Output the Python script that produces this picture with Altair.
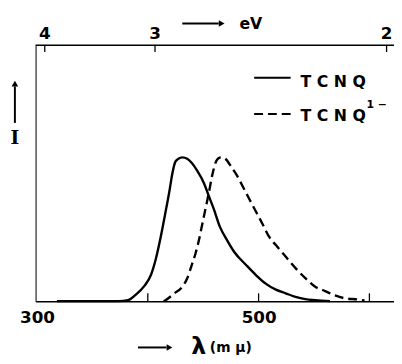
import altair as alt
import pandas as pd

# ---- data ----
solid_wl = [318, 340, 360, 373.3, 382.2, 388.4, 397.3, 402.7, 407.1, 411.6, 416, 419.6,
            422.2, 424.9, 427.6, 431.1, 435.6, 444.4, 450.7, 455.1, 459.6, 464.9,
            471.1, 478.2, 488.9, 497.8, 506.7, 515.6, 524.4, 533.3, 542.2, 551.1, 564.4]
solid_i = [0, 0, 0, 0, 0.007, 0.04, 0.11, 0.18, 0.29, 0.445, 0.62, 0.77,
           0.89, 0.97, 0.99, 1.0, 0.99, 0.91, 0.82, 0.73, 0.64, 0.52,
           0.43, 0.34, 0.25, 0.18, 0.12, 0.08, 0.055, 0.03, 0.014, 0.007, 0]

dashed_wl = [414.2, 416, 424, 431.1, 435.6, 440, 443, 446, 449, 452, 455, 458,
             461, 464, 467, 470, 475.6, 480, 486.2, 491.6, 497.8, 504,
             509.3, 515.6, 524.4, 533.3, 542.2, 551.1, 560, 568.9, 577.8, 589.3, 595.6]
dashed_i = [0, 0.007, 0.055, 0.10, 0.16, 0.26, 0.33, 0.42, 0.53, 0.64, 0.75, 0.87,
            0.96, 0.995, 1.0, 0.99, 0.93, 0.88, 0.79, 0.71, 0.62, 0.53,
            0.45, 0.39, 0.31, 0.23, 0.16, 0.10, 0.07, 0.04, 0.02, 0.012, 0.005]

wl_ticks = [400, 500, 600]
wl_labels = [300, 500]
ev_pos = [307, 406.5, 615.5]      # wavelength positions of the eV ticks
ev_labels = ["4", "3", "2"]

W, H = 364, 260
XDOM = [298.7, 622.2]
YDOM = [0, 1.78]
FONT = "DejaVu Sans"

xs = alt.Scale(domain=XDOM, nice=False, zero=False)
ys = alt.Scale(domain=YDOM, nice=False, zero=False)

df_s = pd.DataFrame({"wl": solid_wl, "I": solid_i})
df_d = pd.DataFrame({"wl": dashed_wl, "I": dashed_i})
df_bt = pd.DataFrame({"wl": wl_ticks})
df_ev = pd.DataFrame({"wl": ev_pos, "lab": ev_labels})
one = pd.DataFrame({"a": [0]})

x_axis = alt.Axis(
    values=wl_labels, ticks=False, tickSize=0, grid=False, title=None,
    domainColor="black", domainWidth=1.5, labelPadding=9,
    labelFont=FONT, labelFontWeight="bold", labelFontSize=17, labelColor="black")
y_axis = alt.Axis(
    ticks=False, tickSize=0, labels=False, grid=False, title=None,
    domainColor="#222", domainWidth=1.2)

solid = alt.Chart(df_s).mark_line(color="black", strokeWidth=2.4, interpolate="monotone").encode(
    x=alt.X("wl:Q", scale=xs, axis=x_axis),
    y=alt.Y("I:Q", scale=ys, axis=y_axis),
)

dashed = alt.Chart(df_d).mark_line(color="black", strokeWidth=2.4, strokeDash=[9, 5],
                                   interpolate="monotone").encode(
    x=alt.X("wl:Q", scale=xs, axis=x_axis),
    y=alt.Y("I:Q", scale=ys, axis=y_axis),
)

bticks = alt.Chart(df_bt).mark_rule(color="black", strokeWidth=1.3).encode(
    x=alt.X("wl:Q", scale=xs, axis=x_axis),
    y=alt.value(H), y2=alt.value(H - 8),
)

tticks = alt.Chart(df_ev).mark_rule(color="black", strokeWidth=1.3).encode(
    x=alt.X("wl:Q", scale=xs, axis=x_axis),
    y=alt.value(0), y2=alt.value(7),
)

tlabels = alt.Chart(df_ev).mark_text(font=FONT, fontWeight="bold", fontSize=17,
                                     baseline="alphabetic", color="black").encode(
    x=alt.X("wl:Q", scale=xs, axis=x_axis),
    y=alt.value(-6),
    text="lab:N",
)

topline = alt.Chart(one).mark_rule(color="black", strokeWidth=1.5).encode(
    x=alt.value(0), x2=alt.value(W), y=alt.value(0))

# legend
leg_s = alt.Chart(one).mark_rule(color="black", strokeWidth=2).encode(
    x=alt.value(222), x2=alt.value(259), y=alt.value(33))
leg_d = alt.Chart(one).mark_rule(color="black", strokeWidth=2, strokeDash=[9, 5]).encode(
    x=alt.value(222), x2=alt.value(259), y=alt.value(70))
leg_t1 = alt.Chart(one).mark_text(font=FONT, fontWeight="bold", fontSize=16, align="left",
                                  baseline="alphabetic", color="black").encode(
    x=alt.value(269), y=alt.value(42), text=alt.value("T C N Q"))
leg_t2 = alt.Chart(one).mark_text(font=FONT, fontWeight="bold", fontSize=16, align="left",
                                  baseline="alphabetic", color="black").encode(
    x=alt.value(269), y=alt.value(77), text=alt.value("T C N Q"))
leg_sup = alt.Chart(one).mark_text(font=FONT, fontWeight="bold", fontSize=11, align="left",
                                   baseline="alphabetic", color="black").encode(
    x=alt.value(336), y=alt.value(64), text=alt.value("1 \u2212"))

# axis annotations
i_line = alt.Chart(one).mark_rule(color="black", strokeWidth=2).encode(
    x=alt.value(-21), y=alt.value(42), y2=alt.value(79))
i_head = alt.Chart(one).mark_point(shape="triangle-up", filled=True, color="black",
                                   size=45, opacity=1).encode(
    x=alt.value(-21), y=alt.value(39))
i_text = alt.Chart(one).mark_text(font="DejaVu Serif", fontWeight="bold", fontSize=19,
                                  baseline="alphabetic", color="black").encode(
    x=alt.value(-21), y=alt.value(100), text=alt.value("I"))

ev_line = alt.Chart(one).mark_rule(color="black", strokeWidth=2).encode(
    x=alt.value(149), x2=alt.value(186), y=alt.value(-22))
ev_head = alt.Chart(one).mark_point(shape="triangle-right", filled=True, color="black",
                                    size=45, opacity=1).encode(
    x=alt.value(189), y=alt.value(-22))
ev_text = alt.Chart(one).mark_text(font=FONT, fontWeight="bold", fontSize=16, align="left",
                                   baseline="alphabetic", color="black").encode(
    x=alt.value(207), y=alt.value(-16), text=alt.value("eV"))

lam_line = alt.Chart(one).mark_rule(color="black", strokeWidth=2).encode(
    x=alt.value(104), x2=alt.value(133), y=alt.value(307))
lam_head = alt.Chart(one).mark_point(shape="triangle-right", filled=True, color="black",
                                     size=45, opacity=1).encode(
    x=alt.value(136), y=alt.value(307))
lam_text = alt.Chart(one).mark_text(font=FONT, fontWeight="bold", fontSize=24, align="left",
                                    baseline="alphabetic", color="black").encode(
    x=alt.value(158), y=alt.value(314), text=alt.value("\u03bb"))
mu_text = alt.Chart(one).mark_text(font=FONT, fontWeight="bold", fontSize=14, align="left",
                                   baseline="alphabetic", color="black").encode(
    x=alt.value(177), y=alt.value(312), text=alt.value("(m \u03bc)"))

chart = alt.layer(
    solid, dashed, bticks, tticks, tlabels, topline,
    leg_s, leg_d, leg_t1, leg_t2, leg_sup,
    i_line, i_head, i_text, ev_line, ev_head, ev_text,
    lam_line, lam_head, lam_text, mu_text,
).properties(
    width=W, height=H,
    autosize=alt.AutoSizeParams(type="none"),
    padding={"left": 28, "top": 35, "right": 0, "bottom": 57},
    background="white",
).configure_view(strokeWidth=0)

chart.save("out.html", embed_options={"renderer": "svg", "actions": False})
